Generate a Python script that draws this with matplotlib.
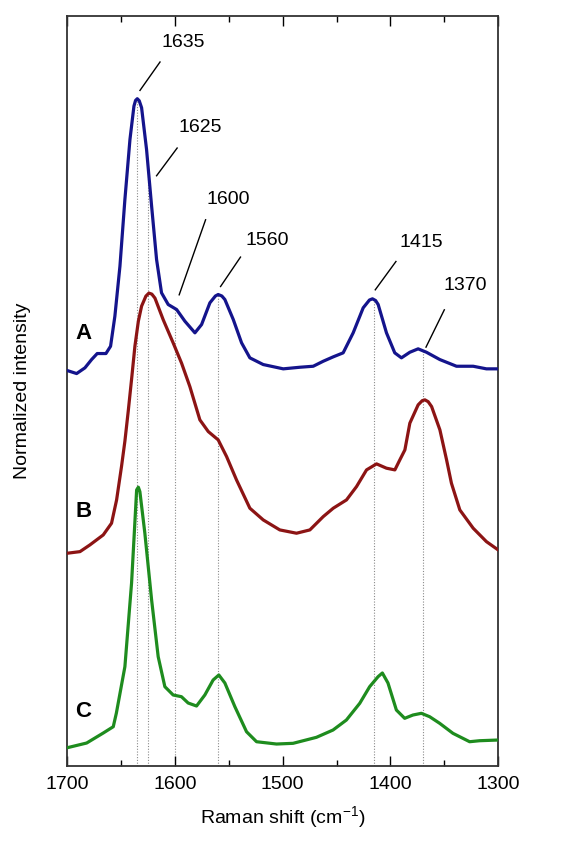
import numpy as np
import matplotlib
matplotlib.use('Agg')
import matplotlib.pyplot as plt
from matplotlib.ticker import MultipleLocator

plt.rcParams['font.family'] = ['Liberation Sans', 'DejaVu Sans']
plt.rcParams['mathtext.default'] = 'regular'

# spectra (wavenumber in cm-1, intensity in a.u. above each baseline)
wn_A = [1700, 1691.3, 1683.6, 1677.4, 1672.2, 1664.1, 1659.8, 1655.8, 1651.1, 1646.5,
        1641.8, 1638.1, 1636.6, 1635, 1633.2, 1631, 1626.4, 1621.7, 1617.1, 1612.5,
        1606.3, 1598.5, 1590.8, 1581.5, 1575.3, 1567.6, 1562.5, 1559.9, 1556.5, 1553.7,
        1545.9, 1538.2, 1530.5, 1518.1, 1499.5, 1484.1, 1471.7, 1462.4, 1453.1, 1443.9,
        1434.6, 1425.3, 1419.5, 1416.7, 1413.8, 1411.4, 1403.7, 1396, 1389.8, 1382,
        1374.3, 1366.6, 1354.2, 1338.7, 1323.2, 1310.9, 1300]
int_A = [0, -3, 2.7, 11, 17, 17, 24.3, 54.3, 104.3, 171,
         231, 264.3, 270, 271.7, 269.7, 262.7, 221, 164.3, 111, 77.7,
         66, 61, 49.3, 37.7, 46, 67.7, 74.5, 76, 74.5, 71,
         51, 27.7, 12.7, 6, 1.7, 3.3, 4.3, 9.3, 13.7, 17.7,
         37.7, 62.7, 70.5, 71.7, 70, 66, 37.7, 17.7, 12.7, 18.3,
         21.7, 18.3, 11, 4.3, 4.3, 1.7, 1.7]

wn_B = [1700, 1688.2, 1679, 1666.6, 1658.9, 1654.2, 1649.6, 1646.5, 1643.4, 1640,
        1637.2, 1634, 1631, 1627, 1624.2, 1621.5, 1618.6, 1610.9, 1601.6, 1593.9,
        1586.2, 1576.9, 1569.1, 1559.9, 1552.1, 1542.9, 1530.5, 1518.1, 1502.7, 1487.2,
        1474.8, 1462.4, 1453.1, 1440.8, 1431.5, 1422.2, 1412.9, 1403.7, 1395.9, 1391.3,
        1386.6, 1382, 1374.3, 1370.5, 1368, 1365, 1361.8, 1354.1, 1347.9, 1343.4,
        1335.6, 1323.2, 1310.9, 1300]
int_B = [0, 1.6, 8.3, 18.3, 30, 53.3, 87, 112, 142, 177,
         207, 232, 247, 257, 260, 259, 255, 233.3, 210, 190,
         166.6, 133.3, 121.6, 113.3, 96.6, 73.3, 45, 33.3, 23.3, 20,
         23.3, 36.6, 45, 53.3, 66.6, 83.3, 89.3, 85, 83.3, 93.3,
         103.3, 130, 148.3, 152.5, 153.3, 151.5, 146.6, 123.3, 93.3, 70,
         43.3, 25, 11.6, 3.3]

wn_C = [1700, 1682, 1666.6, 1657.3, 1654.4, 1646.5, 1640.3, 1635.6, 1634, 1632.6,
        1628, 1621.7, 1615.6, 1609.4, 1601.7, 1594, 1587.8, 1580, 1572.3, 1564.6,
        1559.3, 1553.7, 1544.4, 1533.6, 1524.3, 1505.8, 1490.4, 1468.7, 1453.3, 1440.9,
        1428.5, 1419.3, 1411.5, 1407.5, 1402.3, 1394.5, 1386.8, 1379.1, 1371.3, 1363.6,
        1354.3, 1342, 1326.5, 1317.3, 1300]
int_C = [0, 4.7, 14.7, 21, 34.7, 81, 164.7, 257.7, 260.4, 256,
         214.7, 147.7, 91, 61, 52.7, 51, 44.7, 41.7, 52.7, 67.7,
         72.7, 64.7, 41, 16, 6, 3.7, 4.4, 10.4, 17.7, 27.7,
         44.4, 61, 71, 74.7, 64.7, 37.7, 29.4, 32.7, 34.4, 31,
         24.4, 14.4, 6, 7, 7.7]

baseline = {'A': 395.3, 'B': 212.7, 'C': 18.3}
peaks = [1635, 1625, 1600, 1560, 1415, 1370]
peak_labels = ['1635', '1625', '1600', '1560', '1415', '1370']

col_A = '#14148c'
col_B = '#8c1414'
col_C = '#1e8c1e'

fig = plt.figure(figsize=(5.7, 8.43), dpi=100)
ax = fig.add_axes([0.118, 0.0913, 0.756, 0.8901])

yA = np.array(int_A) + baseline['A']
yB = np.array(int_B) + baseline['B']
yC = np.array(int_C) + baseline['C']

# dotted guide lines from the top spectrum down to the axis
top = np.interp(peaks, wn_A[::-1], yA[::-1])
ax.vlines(peaks, 0, top, colors='#8a8a8a', linestyles=(0, (1, 1.5)), linewidth=0.8, zorder=1)

ax.plot(wn_A, yA, color=col_A, lw=2.3, zorder=3, solid_joinstyle='round')
ax.plot(wn_B, yB, color=col_B, lw=2.3, zorder=3, solid_joinstyle='round')
ax.plot(wn_C, yC, color=col_C, lw=2.3, zorder=3, solid_joinstyle='round')

# leader lines and labels: tip, line end, text centre
leaders = [
    ((1632.5, 675.3), (1613.9, 703.7), (1592.4, 723.3)),
    ((1617.1, 590.0), (1598.0, 617.7), (1576.9, 638.3)),
    ((1596.1, 471.0), (1571.6, 546.0), (1550.6, 566.7)),
    ((1557.7, 479.3), (1539.2, 508.7), (1514.2, 525.3)),
    ((1414.1, 476.0), (1394.9, 504.3), (1371.0, 523.7)),
    ((1367.0, 418.7), (1350.0, 456.0), (1330.4, 480.3)),
]
for lab, (tip, end, txt) in zip(peak_labels, leaders):
    ax.plot([tip[0], end[0]], [tip[1], end[1]], color='black', lw=1.0, zorder=4)
    ax.text(txt[0], txt[1], lab, ha='center', va='center', fontsize=14, zorder=5)

for name, yv in [('A', 432.7), ('B', 254.3), ('C', 54.3)]:
    ax.text(1685, yv, name, ha='center', va='center', fontsize=16, fontweight='bold')

ax.set_xlim(1700, 1300)
ax.set_ylim(0, 750)
ax.xaxis.set_major_locator(MultipleLocator(100))
ax.xaxis.set_minor_locator(MultipleLocator(50))
ax.tick_params(axis='x', which='both', direction='in', top=True, labelsize=14, pad=7)
ax.tick_params(axis='x', which='major', length=7, width=1.0)
ax.tick_params(axis='x', which='minor', length=4, width=1.0)
ax.set_yticks([])
for s in ax.spines.values():
    s.set_linewidth(1.3)
    s.set_color('#333333')

ax.set_xlabel('Raman shift (cm$^{-1}$)', fontsize=14, labelpad=8)
ax.set_ylabel('Normalized intensity', fontsize=14, labelpad=26)

fig.savefig('out.png', dpi=100)
